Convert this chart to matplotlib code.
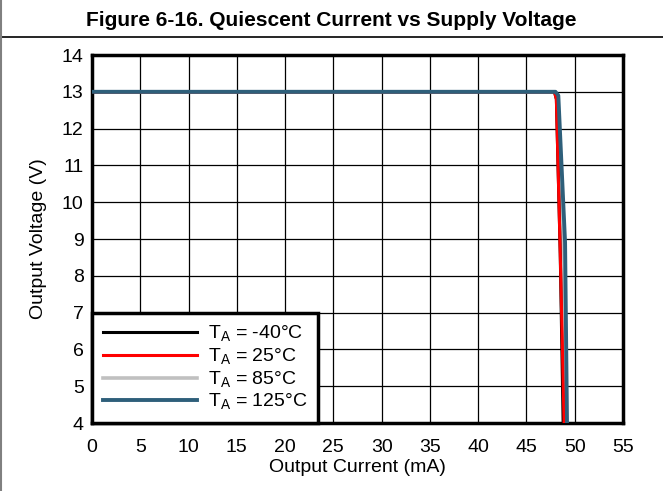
import matplotlib.pyplot as plt
from matplotlib.lines import Line2D

plt.rcParams['font.family'] = ['Liberation Sans', 'DejaVu Sans']

# curve data (output current in mA, output voltage in V)
i_m40 = [0, 47.9, 48.1, 48.5, 48.8]
v_m40 = [13, 13, 12.8, 8.6, 4]
i_25 = [0, 47.9, 48.1, 48.5, 48.9]
v_25 = [13, 13, 12.8, 8.6, 4]
i_85 = [0, 48.0, 48.2, 48.8, 49.1]
v_85 = [13, 13, 12.9, 8.8, 4]
i_125 = [0, 48.0, 48.3, 49.0, 49.2]
v_125 = [13, 13, 12.9, 8.9, 4]

labels = ['T$_\\mathregular{A}$ = -40°C', 'T$_\\mathregular{A}$ = 25°C',
          'T$_\\mathregular{A}$ = 85°C', 'T$_\\mathregular{A}$ = 125°C']
colors = ['#000000', '#ff0000', '#c0c0c0', '#2e5f7a']

x_ticks = list(range(0, 56, 5))
y_ticks = list(range(4, 15))

fig = plt.figure(figsize=(6.63, 4.91), dpi=100)
ax = fig.add_axes([92 / 663, 1 - 423 / 491, 531 / 663, 368 / 491])

ax.plot(i_m40, v_m40, color=colors[0], lw=2.2, label=labels[0], zorder=3)
ax.plot(i_25, v_25, color=colors[1], lw=2.2, label=labels[1], zorder=4)
ax.plot(i_85, v_85, color=colors[2], lw=2.6, label=labels[2], zorder=2)
ax.plot(i_125, v_125, color=colors[3], lw=2.8, label=labels[3], zorder=5)

ax.set_xlim(0, 55)
ax.set_ylim(4, 14)
ax.set_xticks(x_ticks)
ax.set_yticks(y_ticks)
ax.grid(True, color='black', lw=0.9)
ax.tick_params(length=0, labelsize=14)
ax.tick_params(axis='x', pad=11.5)
ax.tick_params(axis='y', pad=6)
for s in ax.spines.values():
    s.set_linewidth(2.5)

ax.set_xlabel('Output Current (mA)', fontsize=14, labelpad=2)
ax.set_ylabel('Output Voltage (V)', fontsize=14, labelpad=10.5)

leg = ax.legend(loc='lower left', bbox_to_anchor=(0, 0), borderaxespad=0,
                fontsize=14, handlelength=4.85, handletextpad=0.55,
                labelspacing=0.12, fancybox=False, framealpha=1,
                edgecolor='black', borderpad=0.55)
leg.get_frame().set_linewidth(2.5)

# title band with rule under it and left border
fig.text(0.5, 1 - 20 / 491, 'Figure 6-16. Quiescent Current vs Supply Voltage',
         ha='center', va='center', fontsize=15, fontweight='bold')
fig.add_artist(Line2D([0, 1], [1 - 37 / 491] * 2, color='black', lw=1.2))
fig.add_artist(Line2D([0.001, 0.001], [0, 1], color='#808080', lw=1.5))

fig.savefig('out.png', dpi=100)
